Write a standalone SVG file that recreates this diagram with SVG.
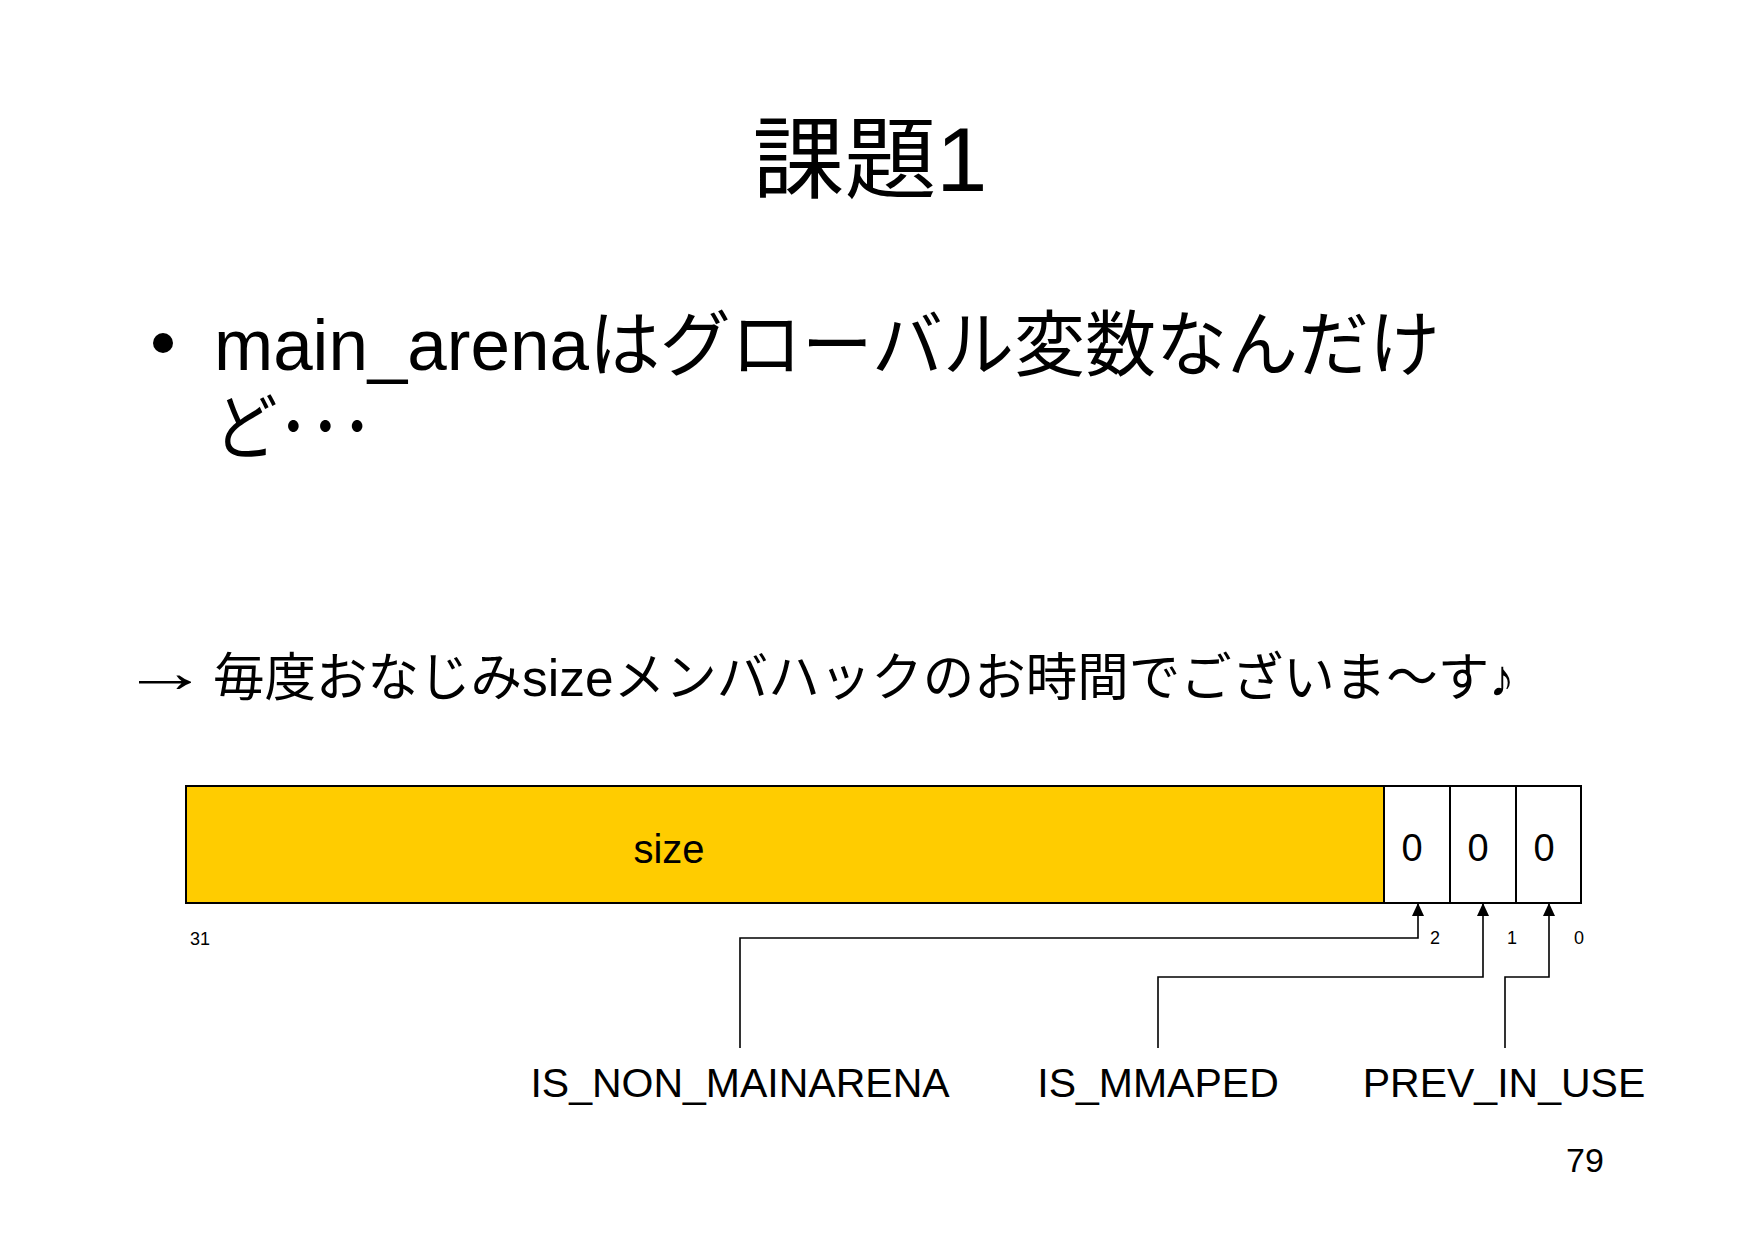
<svg xmlns="http://www.w3.org/2000/svg" width="1754" height="1240" viewBox="0 0 1754 1240">
<style>
text { font-family: "Liberation Sans", "Noto Sans CJK JP", sans-serif; fill: #000; }
.cell { fill: #fff; stroke: #000; stroke-width: 2; }
.field { fill: #FFCC00; stroke: #000; stroke-width: 2; }
.conn { fill: none; stroke: #000; stroke-width: 1.6; }
.bit { font-size: 18px; text-anchor: middle; }
.flag { font-size: 41px; text-anchor: middle; }
.zero { font-size: 38px; text-anchor: middle; }
</style>
<defs>
<marker id="arrow" markerUnits="userSpaceOnUse" markerWidth="14" markerHeight="12" refX="13" refY="6" orient="auto">
<path d="M0,0 L13,6 L0,12 z" fill="#000"/>
</marker>
</defs>
<rect x="0" y="0" width="1754" height="1240" fill="#fff"/>

<g id="title">
<text x="870" y="191" font-size="90" text-anchor="middle" textLength="235" lengthAdjust="spacingAndGlyphs">課題1</text>
</g>

<g id="bullet">
<circle cx="163" cy="343" r="10" fill="#000"/>
<text x="214" y="370" font-size="72" textLength="1226" lengthAdjust="spacingAndGlyphs">main_arenaはグローバル変数なんだけ</text>
<text x="214" y="453" font-size="72" textLength="159" lengthAdjust="spacingAndGlyphs">ど･･･</text>
</g>

<g id="note">
<text x="121" y="692" font-size="58" textLength="88" lengthAdjust="spacingAndGlyphs">→</text>
<text x="213" y="696" font-size="52" textLength="1302" lengthAdjust="spacingAndGlyphs">毎度おなじみsizeメンバハックのお時間でございま～す♪</text>
</g>

<g id="size-field">
<rect class="field" x="186" y="786" width="1198" height="117"/>
<text x="669" y="863" font-size="40" text-anchor="middle">size</text>
</g>
<g id="bit2">
<rect class="cell" x="1384" y="786" width="66" height="117"/>
<text class="zero" x="1412" y="861">0</text>
</g>
<g id="bit1">
<rect class="cell" x="1450" y="786" width="66" height="117"/>
<text class="zero" x="1478" y="861">0</text>
</g>
<g id="bit0">
<rect class="cell" x="1516" y="786" width="65" height="117"/>
<text class="zero" x="1544" y="861">0</text>
</g>

<g id="bit-numbers">
<text class="bit" x="200" y="945" font-size="19">31</text>
<text class="bit" x="1435" y="944">2</text>
<text class="bit" x="1512" y="944">1</text>
<text class="bit" x="1579" y="944">0</text>
</g>

<g id="connectors">
<path class="conn" d="M740 1048 V938 H1418 V903" marker-end="url(#arrow)"/>
<path class="conn" d="M1158 1048 V977 H1483 V903" marker-end="url(#arrow)"/>
<path class="conn" d="M1505 1048 V977 H1549 V903" marker-end="url(#arrow)"/>
</g>

<g id="label-is-non-mainarena">
<text class="flag" x="740" y="1097">IS_NON_MAINARENA</text>
</g>
<g id="label-is-mmaped">
<text class="flag" x="1158" y="1097">IS_MMAPED</text>
</g>
<g id="label-prev-in-use">
<text class="flag" x="1504" y="1097">PREV_IN_USE</text>
</g>

<g id="page-number">
<text x="1585" y="1172" font-size="34" text-anchor="middle">79</text>
</g>
</svg>
